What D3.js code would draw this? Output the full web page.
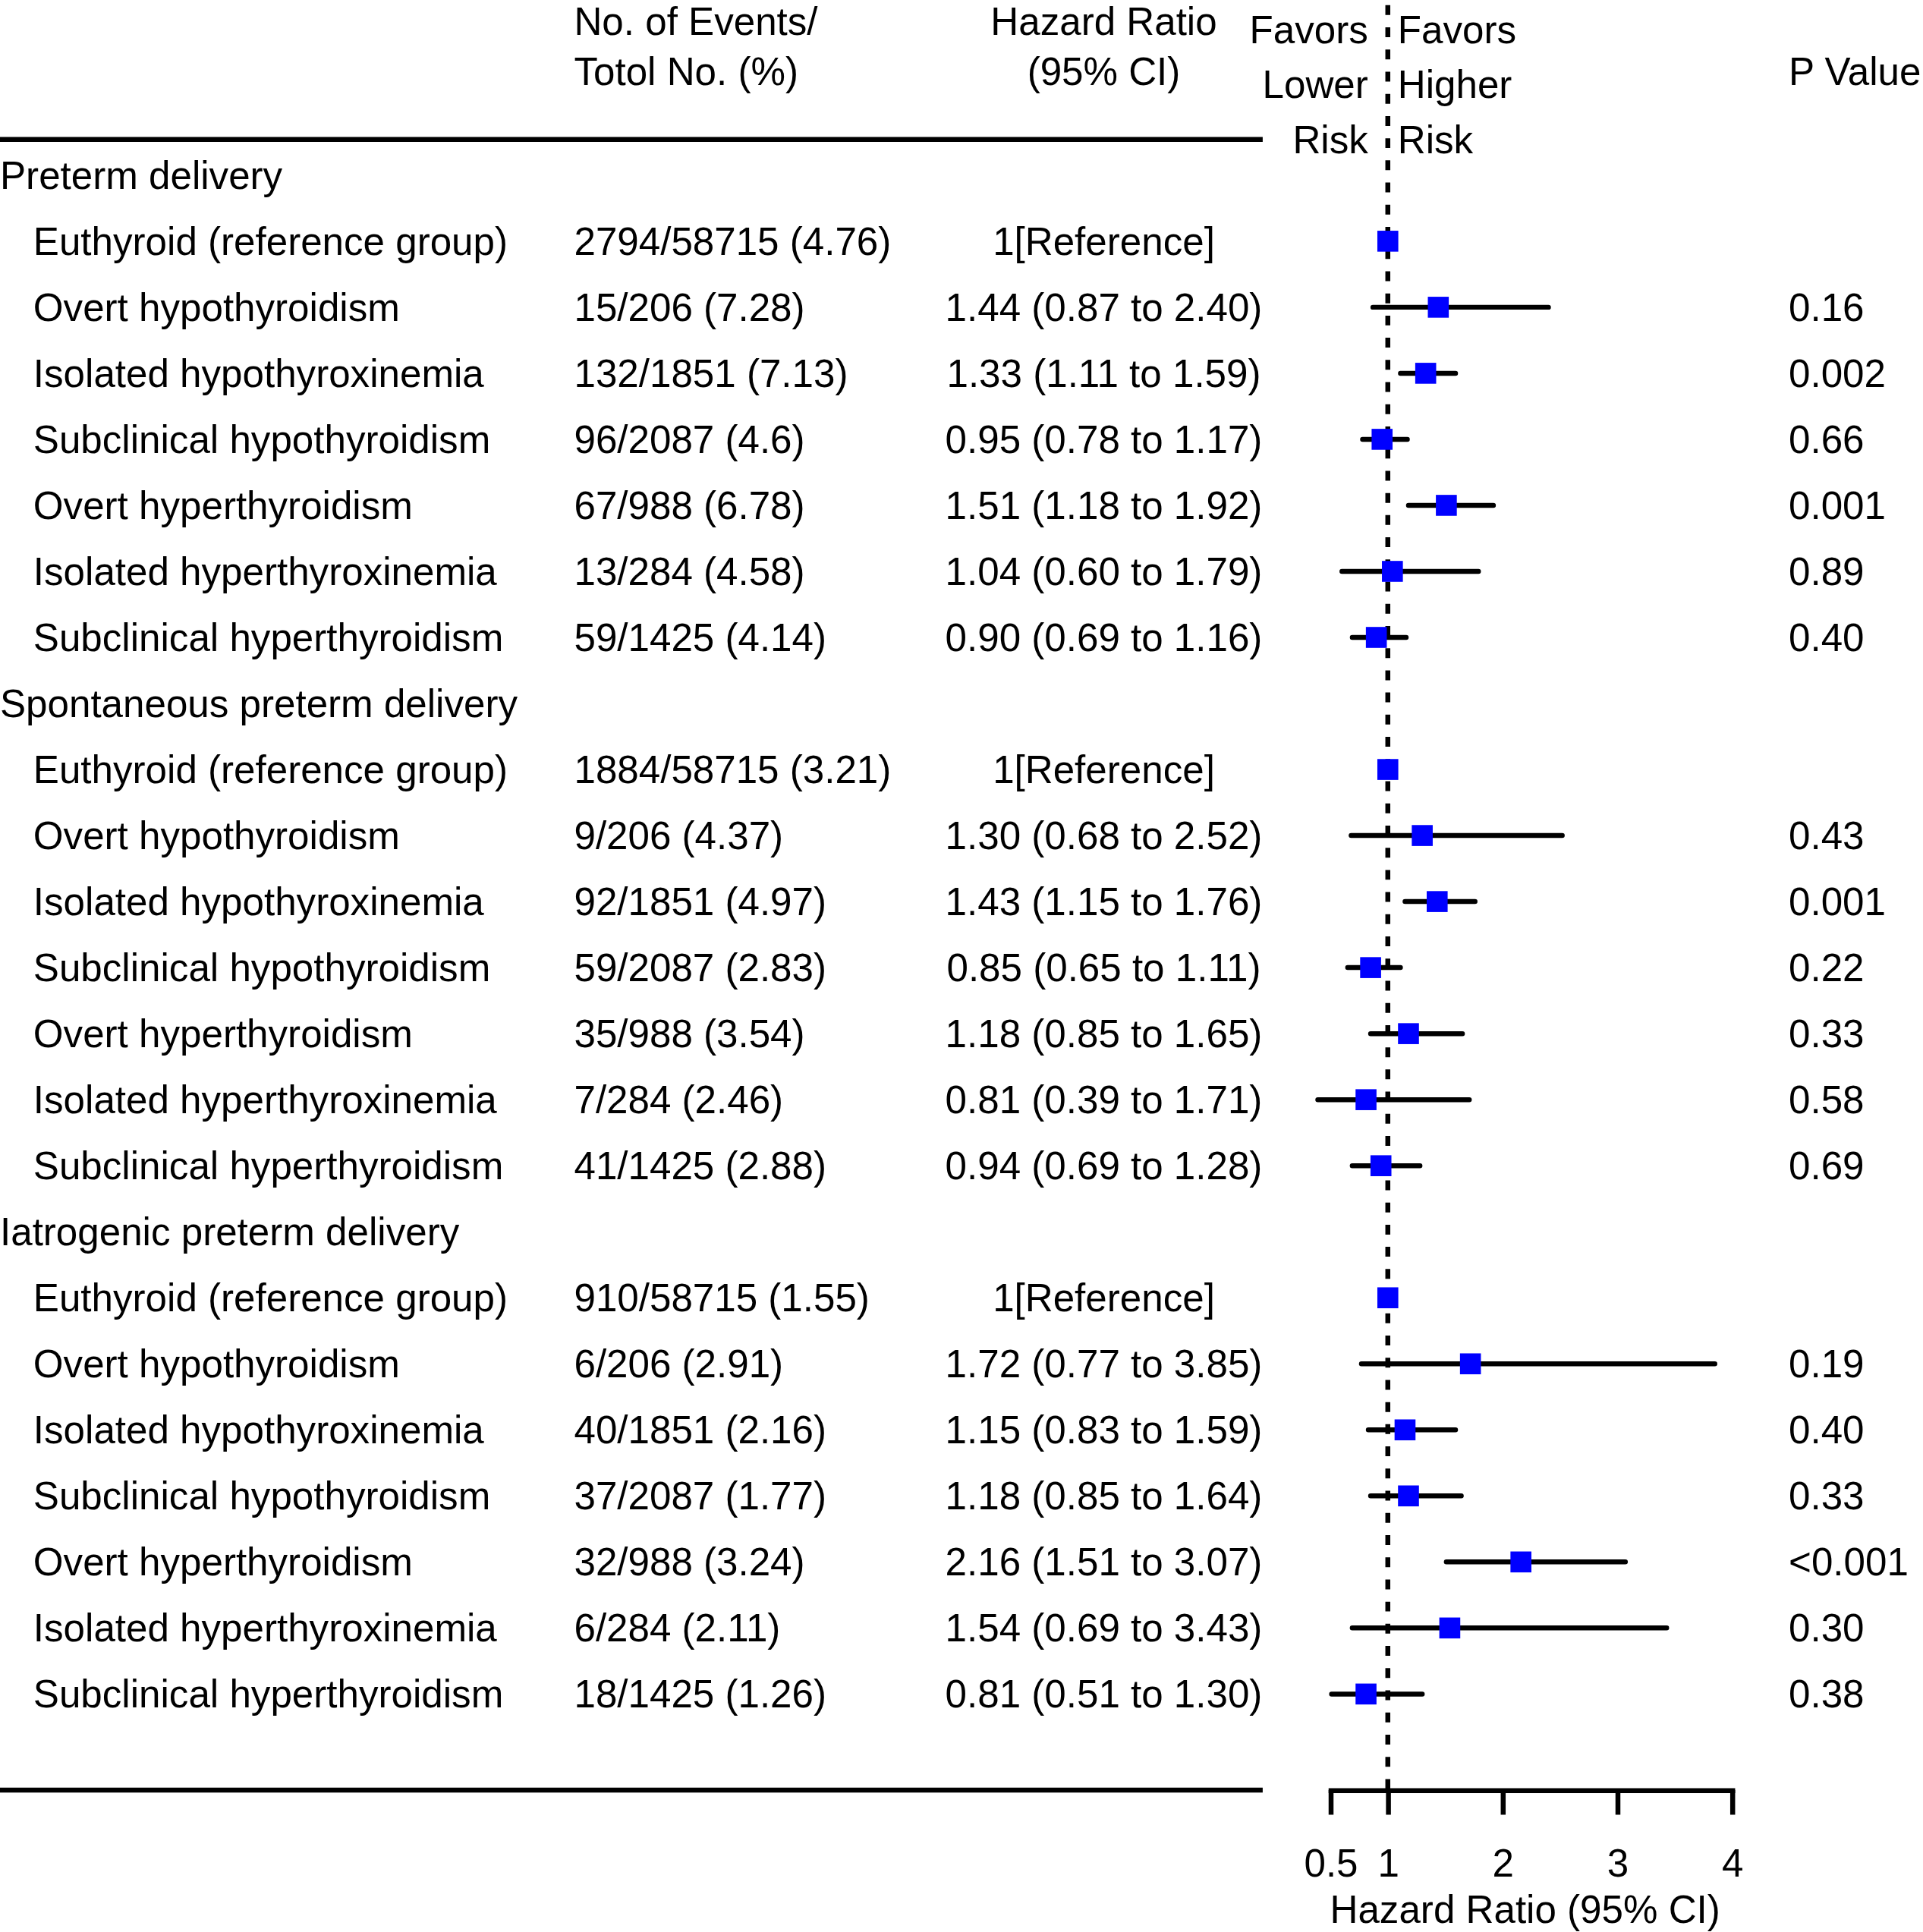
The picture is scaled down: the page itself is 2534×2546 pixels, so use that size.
<!DOCTYPE html>
<html>
<head>
<meta charset="utf-8">
<script src="https://cdn.jsdelivr.net/npm/d3@7"></script>
<style>
  body { margin: 0; background: #fff; }
  svg { display: block; }
  text { font-family: "Liberation Sans", Arial, Helvetica, sans-serif; fill: #000; }
</style>
</head>
<body>
<svg id="chart"></svg>
<script>
const groups = ["Preterm delivery", "Spontaneous preterm delivery", "Iatrogenic preterm delivery"];
const subgroups = [
  "Euthyroid (reference group)",
  "Overt hypothyroidism",
  "Isolated hypothyroxinemia",
  "Subclinical hypothyroidism",
  "Overt hyperthyroidism",
  "Isolated hyperthyroxinemia",
  "Subclinical hyperthyroidism"
];
const events = [
  ["2794/58715 (4.76)", "15/206 (7.28)", "132/1851 (7.13)", "96/2087 (4.6)", "67/988 (6.78)", "13/284 (4.58)", "59/1425 (4.14)"],
  ["1884/58715 (3.21)", "9/206 (4.37)", "92/1851 (4.97)", "59/2087 (2.83)", "35/988 (3.54)", "7/284 (2.46)", "41/1425 (2.88)"],
  ["910/58715 (1.55)", "6/206 (2.91)", "40/1851 (2.16)", "37/2087 (1.77)", "32/988 (3.24)", "6/284 (2.11)", "18/1425 (1.26)"]
];
const hr = [
  [1, 1.44, 1.33, 0.95, 1.51, 1.04, 0.90],
  [1, 1.30, 1.43, 0.85, 1.18, 0.81, 0.94],
  [1, 1.72, 1.15, 1.18, 2.16, 1.54, 0.81]
];
const ciLow = [
  [null, 0.87, 1.11, 0.78, 1.18, 0.60, 0.69],
  [null, 0.68, 1.15, 0.65, 0.85, 0.39, 0.69],
  [null, 0.77, 0.83, 0.85, 1.51, 0.69, 0.51]
];
const ciHigh = [
  [null, 2.40, 1.59, 1.17, 1.92, 1.79, 1.16],
  [null, 2.52, 1.76, 1.11, 1.65, 1.71, 1.28],
  [null, 3.85, 1.59, 1.64, 3.07, 3.43, 1.30]
];
const pValues = [
  ["", "0.16", "0.002", "0.66", "0.001", "0.89", "0.40"],
  ["", "0.43", "0.001", "0.22", "0.33", "0.58", "0.69"],
  ["", "0.19", "0.40", "0.33", "<0.001", "0.30", "0.38"]
];
const xTicks = [0.5, 1, 2, 3, 4];

// Work in a 1561x1568 frame, scaled up to the window
const W = 1561, H = 1568;
const svg = d3.select("#chart")
  .attr("width", 2534)
  .attr("height", 2546)
  .attr("viewBox", `0 0 ${W} ${H}`);

const fs = 31.5;
const col = { group: 0, item: 27, events: 466, hr: 896, pval: 1452 };
const lineEnd = 1025, topLineY = 113, axisY = 1453;

// Flatten rows
const rows = [];
groups.forEach((g, gi) => {
  rows.push({ type: "group", label: g });
  subgroups.forEach((s, si) => {
    rows.push({
      type: "item",
      label: s,
      events: events[gi][si],
      hr: hr[gi][si],
      lo: ciLow[gi][si],
      hi: ciHigh[gi][si],
      p: pValues[gi][si]
    });
  });
});

const y = d3.scaleLinear().domain([0, rows.length - 1]).range([142, 1375]);
const x = d3.scaleLinear().domain([0.5, 4]).range([1080, 1406]);

const fmt = d3.format(".2f");
const hrText = (d) => d.lo == null ? "1[Reference]" : `${fmt(d.hr)} (${fmt(d.lo)} to ${fmt(d.hi)})`;

// Header
const header = svg.append("g").attr("font-size", fs);
header.append("text").attr("x", col.events).attr("y", 17).attr("dy", "0.35em").text("No. of Events/");
header.append("text").attr("x", col.events).attr("y", 58).attr("dy", "0.35em").text("Totol No. (%)");
header.append("text").attr("x", col.hr).attr("y", 17).attr("dy", "0.35em").attr("text-anchor", "middle").text("Hazard Ratio");
header.append("text").attr("x", col.hr).attr("y", 58).attr("dy", "0.35em").attr("text-anchor", "middle").text("(95% CI)");
header.append("text").attr("x", col.pval).attr("y", 58).attr("dy", "0.35em").text("P Value");

const favL = ["Favors", "Lower", "Risk"], favR = ["Favors", "Higher", "Risk"];
favL.forEach((t, i) => header.append("text").attr("x", x(1) - 16).attr("y", 24 + i * 44.5)
  .attr("dy", "0.35em").attr("text-anchor", "end").text(t));
favR.forEach((t, i) => header.append("text").attr("x", x(1) + 8).attr("y", 24 + i * 44.5)
  .attr("dy", "0.35em").text(t));

// Horizontal rules
svg.append("line").attr("x1", 0).attr("x2", lineEnd).attr("y1", topLineY).attr("y2", topLineY)
  .attr("stroke", "#000").attr("stroke-width", 4);
svg.append("line").attr("x1", 0).attr("x2", lineEnd).attr("y1", axisY).attr("y2", axisY)
  .attr("stroke", "#000").attr("stroke-width", 4);

// Reference line at HR = 1
svg.append("line").attr("x1", x(1)).attr("x2", x(1)).attr("y1", 4).attr("y2", axisY)
  .attr("stroke", "#000").attr("stroke-width", 4).attr("stroke-dasharray", "8,10");

// Row text
const rowG = svg.selectAll("g.row").data(rows).enter().append("g")
  .attr("class", "row")
  .attr("font-size", fs)
  .attr("transform", (d, i) => `translate(0,${y(i)})`);

rowG.append("text")
  .attr("x", (d) => d.type === "group" ? col.group : col.item)
  .attr("dy", "0.35em")
  .text((d) => d.label);

const items = rowG.filter((d) => d.type === "item");
items.append("text").attr("x", col.events).attr("dy", "0.35em").text((d) => d.events);
items.append("text").attr("x", col.hr).attr("dy", "0.35em").attr("text-anchor", "middle").text(hrText);
items.append("text").attr("x", col.pval).attr("dy", "0.35em").text((d) => d.p);

// CI lines and point estimates
items.filter((d) => d.lo != null).append("line")
  .attr("x1", (d) => x(d.lo))
  .attr("x2", (d) => x(d.hi))
  .attr("stroke", "#000")
  .attr("stroke-width", 4)
  .attr("stroke-linecap", "round");

const sq = 17;
items.append("rect")
  .attr("x", (d) => x(d.hr) - sq / 2)
  .attr("y", -sq / 2)
  .attr("width", sq)
  .attr("height", sq)
  .attr("fill", "#0000ff");

// Axis
const axis = svg.append("g")
  .attr("transform", `translate(0,${axisY})`)
  .call(d3.axisBottom(x).tickValues(xTicks).tickFormat(d3.format("")).tickSize(20).tickSizeOuter(0).tickPadding(28));
axis.select(".domain").attr("stroke-width", 4).attr("stroke-linecap", "square");
axis.selectAll(".tick line").attr("stroke-width", 4);
axis.selectAll(".tick text").attr("font-size", fs).attr("font-family", '"Liberation Sans", Arial, sans-serif');

svg.append("text")
  .attr("x", 1238)
  .attr("y", 1550)
  .attr("dy", "0.35em")
  .attr("font-size", fs)
  .attr("text-anchor", "middle")
  .text("Hazard Ratio (95% CI)");
</script>
</body>
</html>
